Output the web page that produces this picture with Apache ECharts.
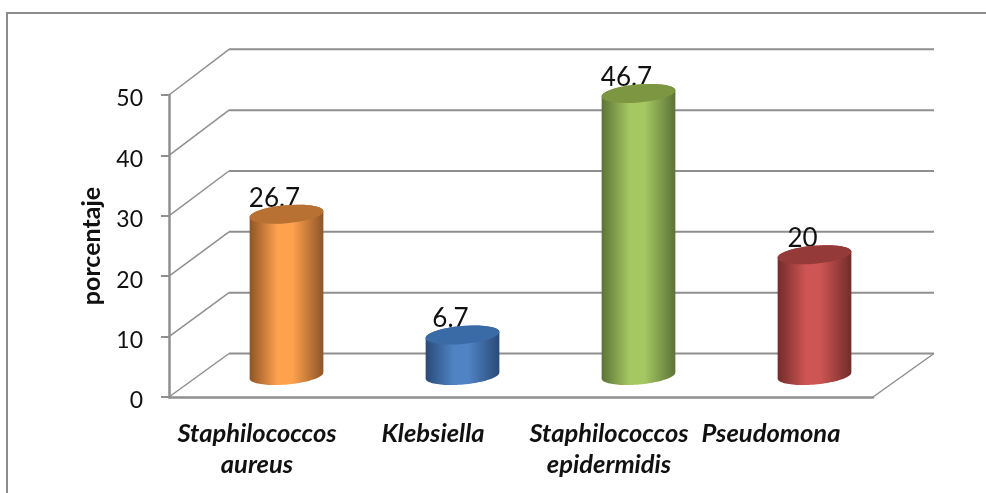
<!DOCTYPE html>
<html>
<head>
<meta charset="utf-8">
<style>html,body{margin:0;padding:0;background:#fff}#chart{width:986px;height:493px}</style>
<script src="https://cdn.jsdelivr.net/npm/echarts@6/dist/echarts.min.js"></script>
</head>
<body>
<div id="chart"></div>
<script>
// Bacterial isolates, percentage per organism
const categories = ['Staphilococcos\naureus', 'Klebsiella', 'Staphilococcos\nepidermidis', 'Pseudomona'];
const values = [26.7, 6.7, 46.7, 20];
const valueLabels = ['26.7', '6.7', '46.7', '20'];
const yTicks = [0, 10, 20, 30, 40, 50];
const edgeColors = ['#8f5426', '#2a4a78', '#5c7336', '#722c2a'];
const midColors = ['#ffa24d', '#4f83c4', '#a6c862', '#cd5553'];
const capColors = ['#b87033', '#3a6ba6', '#7c9642', '#943b39'];

const GRID_COLOR = '#8f8f8f';
const DEPTH_X = 60;          // horizontal shift of the back wall
const CYL_X = 29.5;          // cylinder axis sits halfway into the floor
const CYL_Y = 21.5;
const RX = 37, RY = 9;
const TILT = -5 * Math.PI / 180;

const depthRise = v => 43.5 + v * 0.044;

// Point on a tilted ellipse centred on (cx, cy)
function ellipsePoint(cx, cy, t) {
  const ex = RX * Math.cos(t), ey = RY * Math.sin(t);
  return [cx + ex * Math.cos(TILT) - ey * Math.sin(TILT),
          cy + ex * Math.sin(TILT) + ey * Math.cos(TILT)];
}

// Back-wall gridlines with their diagonal return to the value axis
function renderGrid(params, api) {
  const v = api.value(1);
  const rect = params.coordSys;
  const p = api.coord([0, v]);
  const x0 = rect.x, y0 = p[1];
  const y1 = y0 - depthRise(v);
  const x1 = x0 + DEPTH_X, x2 = x0 + rect.width + DEPTH_X + 1;
  const children = [
    { type: 'line', shape: { x1: x0, y1: y0, x2: x1, y2: y1 }, style: { stroke: GRID_COLOR, lineWidth: 1.5 } },
    { type: 'line', shape: { x1: x1, y1: y1, x2: x2, y2: y1 }, style: { stroke: GRID_COLOR, lineWidth: 2 } }
  ];
  if (v === 0) {
    // Right edge of the floor
    children.push({ type: 'line',
      shape: { x1: x0 + rect.width, y1: y0, x2: x2, y2: y1 },
      style: { stroke: GRID_COLOR, lineWidth: 1.5 } });
  }
  return { type: 'group', children };
}

// One shaded cylinder standing on the floor
function renderCylinder(params, api) {
  const i = api.value(0), v = api.value(1);
  const base = api.coord([i, 0]), top = api.coord([i, v]);
  const cx = base[0] + CYL_X;
  const by = base[1] - CYL_Y, ty = top[1] - CYL_Y;
  const pts = [];
  for (let k = 0; k <= 48; k++) {
    pts.push(ellipsePoint(cx, by, (k / 48) * Math.PI));   // front of the base, right to left
  }
  for (let k = 0; k <= 48; k++) {
    pts.push(ellipsePoint(cx, ty, Math.PI + (k / 48) * Math.PI)); // back of the top, left to right
  }
  const shade = {
    type: 'linear', x: 0, y: 0, x2: 1, y2: 0,
    colorStops: [
      { offset: 0, color: edgeColors[i] },
      { offset: 0.38, color: midColors[i] },
      { offset: 0.58, color: midColors[i] },
      { offset: 1, color: edgeColors[i] }
    ]
  };
  return {
    type: 'group',
    children: [
      { type: 'polygon', shape: { points: pts }, style: { fill: shade } },
      { type: 'ellipse', shape: { cx: 0, cy: 0, rx: RX, ry: RY }, x: cx, y: ty, rotation: -TILT,
        style: { fill: capColors[i] } },
      { type: 'text', x: cx - 12, y: ty - 3,
        z2: -1,
        style: { text: valueLabels[i], fontFamily: 'Lato, sans-serif', fontSize: 26,
                 fill: '#111', align: 'center', verticalAlign: 'bottom' } }
    ]
  };
}

const chart = echarts.init(document.getElementById('chart'), null, { renderer: 'canvas' });
chart.setOption({
  animation: false,
  backgroundColor: '#fff',
  graphic: [{
    type: 'rect', silent: true, z: -1,
    shape: { x: 7, y: 13, width: 1020, height: 520 },
    style: { fill: 'none', stroke: '#8c8c8c', lineWidth: 2 }
  }],
  grid: { left: 169, right: 113, top: 95, bottom: 96, containLabel: false },
  xAxis: {
    type: 'category',
    data: categories,
    axisTick: { show: false },
    axisLine: { lineStyle: { color: GRID_COLOR, width: 2.5 } },
    axisLabel: {
      interval: 0,
      margin: 21,
      formatter: (val) => val === 'Pseudomona' ? '{shift|' + val + '}' : '{n|' + val.replace('\n', '}\n{n|') + '}',
      rich: {
        n: { fontFamily: 'Lato, sans-serif', fontSize: 25.5, fontWeight: 'bold', fontStyle: 'italic', color: '#111', lineHeight: 31, width: 176, align: 'center' },
        shift: { fontFamily: 'Lato, sans-serif', fontSize: 25.5, fontWeight: 'bold', fontStyle: 'italic', color: '#111', lineHeight: 31, padding: [0, 28, 0, 0] }
      }
    }
  },
  yAxis: {
    type: 'value',
    min: 0, max: 50, interval: 10,
    name: 'porcentaje',
    nameLocation: 'middle',
    nameGap: 65,
    nameTextStyle: { fontFamily: 'Lato, sans-serif', fontSize: 25, fontWeight: 'bold', color: '#111' },
    splitLine: { show: false },
    axisLine: { show: true, lineStyle: { color: GRID_COLOR, width: 2.5 } },
    axisTick: { show: true, length: 8, lineStyle: { color: GRID_COLOR, width: 2 } },
    axisLabel: {
      margin: 26,
      formatter: v => '{t|' + v + '}',
      rich: {
        t: { fontFamily: 'Lato, sans-serif', fontSize: 23, color: '#111', padding: [8, 0, 0, 0] }
      }
    }
  },
  series: [
    { type: 'custom', silent: true, z: 1, clip: false, renderItem: renderGrid,
      data: yTicks.map(v => [0, v]) },
    { type: 'custom', silent: true, z: 3, clip: false, renderItem: renderCylinder,
      data: values.map((v, i) => [i, v]) }
  ]
});
</script>
</body>
</html>
